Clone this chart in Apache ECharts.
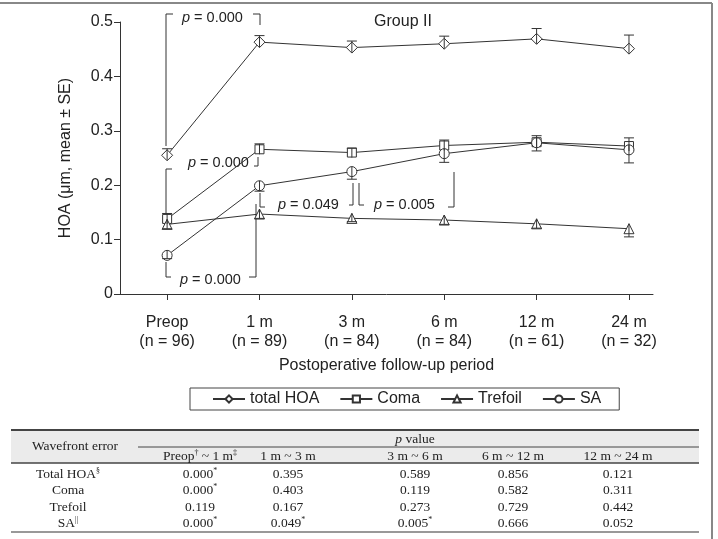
<!DOCTYPE html>
<html>
<head>
<meta charset="utf-8">
<script src="https://cdn.jsdelivr.net/npm/echarts@6/dist/echarts.min.js"></script>
<style>
  html, body { margin: 0; background: #fff; }
  #main { width: 718px; height: 539px; }
</style>
</head>
<body>
<div id="main"></div>
<script>
// follow-up periods and group sizes
const periods = ['Preop', '1 m', '3 m', '6 m', '12 m', '24 m'];
const nCounts = [96, 89, 84, 84, 61, 32];

// means (µm) and SE
const totalHOA = [0.255, 0.463, 0.453, 0.460, 0.469, 0.451];
const totalSE = [0.012, 0.012, 0.012, 0.014, 0.019, 0.025];
const coma = [0.138, 0.266, 0.260, 0.273, 0.279, 0.272];
const comaSE = [0.010, 0.010, 0.008, 0.010, 0.012, 0.015];
const trefoil = [0.128, 0.147, 0.139, 0.136, 0.129, 0.120];
const trefoilSE = [0.008, 0.008, 0.006, 0.008, 0.008, 0.015];
const sa = [0.071, 0.199, 0.225, 0.258, 0.278, 0.265];
const saSE = [0.006, 0.010, 0.014, 0.016, 0.015, 0.024];

// p value table
const tableCols = ['Preop{sup|†} ~ 1 m{sup|‡}', '1 m ~ 3 m', '3 m ~ 6 m', '6 m ~ 12 m', '12 m ~ 24 m'];
const tableRows = ['Total HOA{sup|§}', 'Coma', 'Trefoil', 'SA{sup|||}'];
const pTotal = ['0.000*', '0.395', '0.589', '0.856', '0.121'];
const pComa = ['0.000*', '0.403', '0.119', '0.582', '0.311'];
const pTrefoil = ['0.119', '0.167', '0.273', '0.729', '0.442'];
const pSA = ['0.000*', '0.049*', '0.005*', '0.666', '0.052'];

const SANS = '"Liberation Sans", Arial, sans-serif';
const SERIF = '"Liberation Serif", "Times New Roman", serif';
const INK = '#333';

const chart = echarts.init(document.getElementById('main'));

// line series with hollow-looking markers
function lineSeries(name, data, symbol, size) {
    return {
        name: name,
        type: 'line',
        data: data.map((v, i) => [i, v]),
        symbol: symbol,
        symbolSize: size,
        showAllSymbol: true,
        lineStyle: { color: INK, width: 1 },
        itemStyle: { color: '#fff', borderColor: INK, borderWidth: 1 },
        emphasis: { disabled: true },
        z: 2
    };
}

// one-sided error bars (dir = 1 up, -1 down)
function errorSeries(name, data, se, dir) {
    return {
        name: name,
        type: 'custom',
        data: data.map((v, i) => [i, v, v + dir * se[i]]),
        renderItem: function (params, api) {
            const p0 = api.coord([api.value(0), api.value(1)]);
            const p1 = api.coord([api.value(0), api.value(2)]);
            const st = { stroke: INK, lineWidth: 1 };
            return {
                type: 'group',
                children: [
                    { type: 'line', shape: { x1: p0[0], y1: p0[1] + dir * 5, x2: p1[0], y2: p1[1] }, style: st },
                    { type: 'line', shape: { x1: p1[0] - 5, y1: p1[1], x2: p1[0] + 5, y2: p1[1] }, style: st }
                ]
            };
        },
        z: 3
    };
}

const option = {
    backgroundColor: '#fff',
    animation: false,
    grid: { left: 120, right: 65, top: 22, bottom: 245 },
    xAxis: {
        type: 'value',
        min: -0.51,
        max: 5.26,
        axisLine: { onZero: false, lineStyle: { color: INK, width: 1 } },
        axisTick: { customValues: [0, 1, 2, 3, 4, 5], length: 6, lineStyle: { color: INK } },
        axisLabel: {
            customValues: [0, 1, 2, 3, 4, 5],
            formatter: (v) => periods[v] + '\n(n = ' + nCounts[v] + ')',
            fontFamily: SANS, fontSize: 16, color: '#222', lineHeight: 19, margin: 19
        },
        splitLine: { show: false },
        name: 'Postoperative follow-up period',
        nameLocation: 'middle',
        nameGap: 64,
        nameTextStyle: { fontFamily: SANS, fontSize: 16, color: '#222' }
    },
    yAxis: {
        type: 'value',
        min: 0,
        max: 0.5,
        interval: 0.1,
        axisLine: { show: true, onZero: false, lineStyle: { color: INK, width: 1 } },
        axisTick: { show: true, length: 6, lineStyle: { color: INK } },
        axisLabel: {
            formatter: (v) => (v === 0 ? '0' : v.toFixed(1)),
            fontFamily: SANS, fontSize: 16, color: '#222', margin: 7
        },
        splitLine: { show: false },
        name: 'HOA (μm, mean ± SE)',
        nameLocation: 'middle',
        nameGap: 46,
        nameTextStyle: { fontFamily: SANS, fontSize: 16, color: '#222' }
    },
    legend: {
        data: ['total HOA', 'Coma', 'Trefoil', 'SA'],
        left: 190,
        top: 388,
        padding: [3, 18, 3, 22],
        itemGap: 20,
        itemWidth: 32,
        itemHeight: 9,
        borderColor: '#444',
        borderWidth: 1,
        textStyle: { fontFamily: SANS, fontSize: 16, color: '#222' }
    },
    series: [
        lineSeries('total HOA', totalHOA, 'diamond', 11),
        lineSeries('Coma', coma, 'rect', 9),
        lineSeries('Trefoil', trefoil, 'triangle', 10),
        lineSeries('SA', sa, 'circle', 10),
        errorSeries('totalErr', totalHOA, totalSE, 1),
        errorSeries('comaErr', coma, comaSE, 1),
        errorSeries('trefoilErr', trefoil, trefoilSE, -1),
        errorSeries('saErr', sa, saSE, -1)
    ]
};

// ---- annotations, table and frame drawn as graphics ----
const graphics = [];

function poly(points) {
    graphics.push({
        type: 'polyline', silent: true,
        shape: { points: points },
        style: { stroke: INK, lineWidth: 1, fill: null }
    });
}
function pLabel(x, y, val) {
    graphics.push({
        type: 'text', x: x, y: y, silent: true,
        style: {
            text: '{i|p} = ' + val,
            fontFamily: SANS, fontSize: 14.5, fill: '#222',
            verticalAlign: 'middle',
            rich: { i: { fontFamily: SANS, fontSize: 14.5, fontStyle: 'italic', fill: '#222' } }
        }
    });
}

// Preop -> 1 m, total HOA
poly([[166, 146], [166, 14], [173, 14]]);
poly([[253, 14], [260, 14], [260, 25]]);
pLabel(182, 18, '0.000');
// Preop -> 1 m, coma
poly([[166, 213], [166, 169], [172, 169]]);
poly([[254, 166], [258, 166], [258, 157]]);
pLabel(188, 163, '0.000');
// Preop -> 1 m, SA
poly([[166, 262], [166, 277], [171, 277]]);
poly([[249, 277], [256, 277], [256, 204]]);
pLabel(180, 280, '0.000');
// 1 m -> 3 m, SA
poly([[260, 193], [260, 207], [265, 207]]);
poly([[349, 205], [353, 205], [353, 183]]);
pLabel(278, 205, '0.049');
// 3 m -> 6 m, SA
poly([[359, 183], [359, 205], [364, 205]]);
poly([[448, 207], [454, 207], [454, 172]]);
pLabel(374, 205, '0.005');

graphics.push({
    type: 'text', x: 403, y: 22, silent: true,
    style: { text: 'Group II', fontFamily: SANS, fontSize: 16, fill: '#222', align: 'center', verticalAlign: 'middle' }
});

// table
const colX = [200, 288, 415, 513, 618];
const rowY = [474, 490, 507, 523];
function tText(x, y, str) {
    graphics.push({
        type: 'text', x: x, y: y, silent: true,
        style: {
            text: str,
            fontFamily: SERIF, fontSize: 13.5, fill: '#222', lineHeight: 15,
            align: 'center', verticalAlign: 'middle',
            rich: {
                i: { fontFamily: SERIF, fontSize: 13.5, fontStyle: 'italic', fill: '#222', lineHeight: 15 },
                sup: { fontFamily: SERIF, fontSize: 8, fill: '#222', verticalAlign: 'top', lineHeight: 8 }
            }
        }
    });
}
function hLine(x1, x2, y, w, c) {
    graphics.push({
        type: 'line', silent: true,
        shape: { x1: x1, y1: y, x2: x2, y2: y },
        style: { stroke: c, lineWidth: w }
    });
}

graphics.push({
    type: 'rect', silent: true,
    shape: { x: 11, y: 430, width: 688, height: 33 },
    style: { fill: '#ebebeb' }
});
hLine(11, 699, 430, 2, '#444');
hLine(138, 699, 447, 1, '#444');
hLine(11, 699, 463, 1.5, '#444');
hLine(11, 699, 532, 1.5, '#777');

tText(75, 446, 'Wavefront error');
tText(415, 439, '{i|p} value');
tableCols.forEach((c, i) => tText(colX[i], 456, c));

const pRows = [pTotal, pComa, pTrefoil, pSA];
tableRows.forEach((r, j) => {
    tText(68, rowY[j], r);
    pRows[j].forEach((p, i) => {
        const s = p.endsWith('*') ? p.slice(0, -1) + '{sup|*}' : p;
        tText(colX[i], rowY[j], s);
    });
});

// figure frame (top and right edges)
hLine(0, 712, 3, 2, '#888');
graphics.push({
    type: 'line', silent: true,
    shape: { x1: 712, y1: 3, x2: 712, y2: 539 },
    style: { stroke: '#888', lineWidth: 2 }
});

option.graphic = graphics;
chart.setOption(option);
</script>
</body>
</html>
